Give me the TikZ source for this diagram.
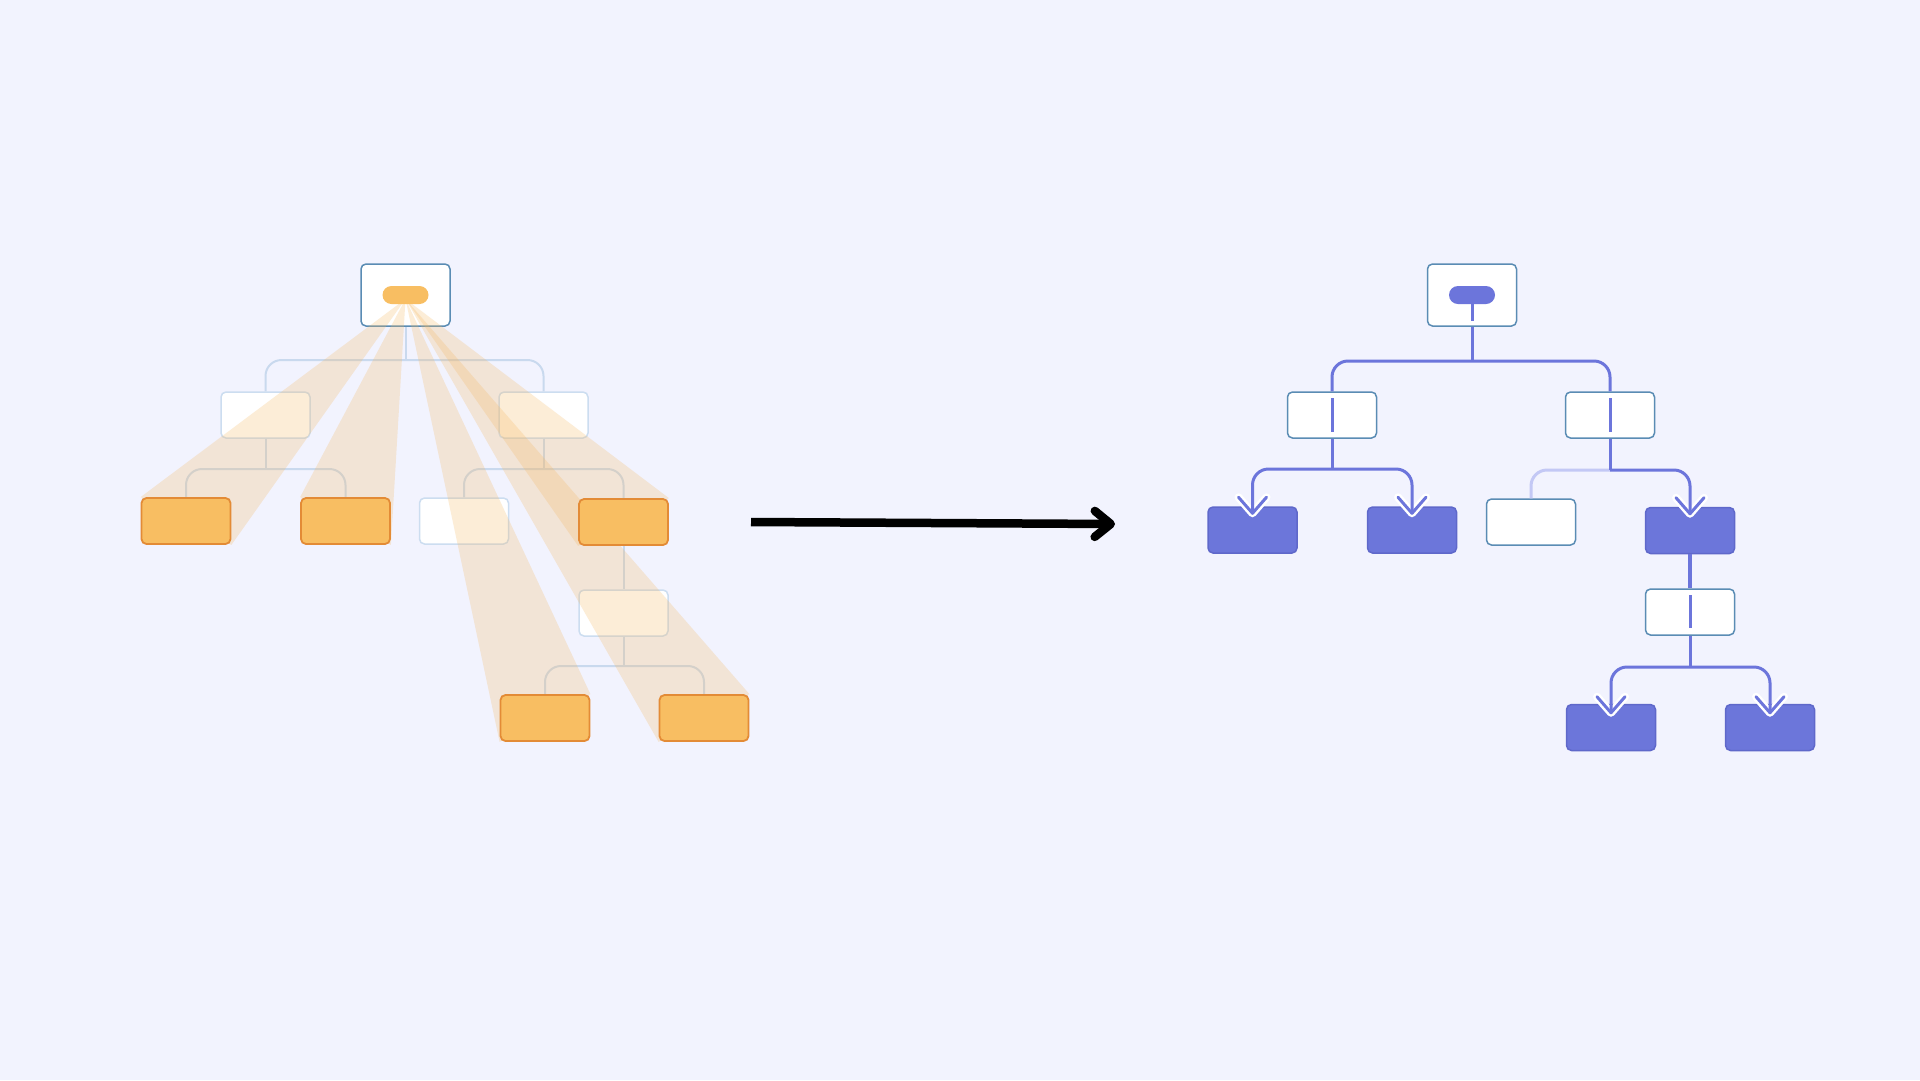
\documentclass[tikz,border=0pt]{standalone}
\usetikzlibrary{calc,arrows.meta}

\definecolor{bg}{HTML}{F2F3FE}
\definecolor{ghostline}{HTML}{CCDDF0}
\definecolor{faintline}{HTML}{C9D9EE}
\definecolor{leaforange}{HTML}{F8BE62}
\definecolor{leafedge}{HTML}{E38B36}
\definecolor{frameblue}{HTML}{5A8CB4}
\definecolor{hitblue}{HTML}{6C76DA}
\definecolor{hitedge}{HTML}{5F68CA}
\definecolor{flowblue}{HTML}{6C75DB}
\definecolor{fadedflow}{HTML}{C3C8F5}
\definecolor{beamorange}{HTML}{F5B860}

\pgfdeclarelayer{back}
\pgfdeclarelayer{mid}
\pgfsetlayers{back,mid,main}

\begin{document}
\begin{tikzpicture}[x=1pt,y=-1pt,
  box/.style={rectangle, rounded corners=5pt, inner sep=0pt,
    minimum width=89pt, minimum height=46pt, line width=1.5pt},
  ghost/.style={box, fill=white, draw=ghostline},
  leaf/.style={box, fill=leaforange, draw=leafedge, line width=1.8pt},
  frame/.style={box, fill=white, draw=frameblue},
  hit/.style={box, fill=hitblue, draw=hitedge},
  tall/.style={minimum height=62pt},
  pill/.style={rectangle, rounded corners=9pt, minimum width=46pt,
    minimum height=18pt, inner sep=0pt},
  faint/.style={draw=faintline, line width=2pt, rounded corners=16pt},
  flow/.style={draw=flowblue, line width=3pt, rounded corners=16pt},
  fade/.style={draw=fadedflow, line width=3pt, rounded corners=16pt},
  beam/.style={fill=beamorange, fill opacity=0.25},
  halo/.style={draw=white, line width=8pt, line cap=round, line join=round},
  chev/.style={draw=flowblue, line width=3pt, line cap=round, line join=round}
]
\begin{pgfonlayer}{back}
  \fill[bg] (0,0) rectangle (1920,1080);
\end{pgfonlayer}
\useasboundingbox (0,0) rectangle (1920,1080);

% ---------- left tree: every leaf lit from the root ----------
\begin{pgfonlayer}{back}
  \node[frame, tall] (R) at (405.5,295) {};
  \node[ghost] (A) at (265.5,415) {};
  \node[ghost] (B) at (543.5,415) {};
  \node[ghost] (C3) at (464,521) {};
  \node[ghost] (D) at (623.5,613) {};
\end{pgfonlayer}

\node[leaf] (C1) at (186,521) {};
\node[leaf] (C2) at (345.5,521) {};
\node[leaf] (C4) at (623.5,522) {};
\node[leaf] (E1) at (545,718) {};
\node[leaf] (E2) at (704,718) {};
\node[pill, fill=leaforange] (P) at (405.5,295) {};

\coordinate (j1) at (405.5,360);
\coordinate (j2) at (265.5,469);
\coordinate (j3) at (543.5,469);
\coordinate (j4) at (623.5,666);
\coordinate (apex) at (405.5,299);

\begin{pgfonlayer}{back}
  \draw[faint] (R.south) -- (j1);
  \draw[faint] (A.north) -- (A.north |- j1) -- (B.north |- j1) -- (B.north);
  \draw[faint] (A.south) -- (j2);
  \draw[faint] (C1.north) -- (C1.north |- j2) -- (C2.north |- j2) -- (C2.north);
  \draw[faint] (B.south) -- (j3);
  \draw[faint] (C3.north) -- (C3.north |- j3) -- (C4.north |- j3) -- (C4.north);
  \draw[faint] (C4.south) -- (D.north);
  \draw[faint] (D.south) -- (j4);
  \draw[faint] (E1.north) -- (E1.north |- j4) -- (E2.north |- j4) -- (E2.north);
\end{pgfonlayer}

\begin{pgfonlayer}{mid}
  \fill[beam] (apex) -- (C1.north west) -- (C1.south east) -- cycle;
  \fill[beam] (apex) -- (C2.north west) -- (C2.south east) -- cycle;
  \fill[beam] (apex) -- (C4.north east) -- (C4.south west) -- cycle;
  \fill[beam] (apex) -- (E1.north east) -- (E1.south west) -- cycle;
  \fill[beam] (apex) -- (E2.north east) -- (E2.south west) -- cycle;
\end{pgfonlayer}

% ---------- transition arrow ----------
\coordinate (m1) at (751,522);
\coordinate (m2) at (1115,524);
\draw[line width=8.5pt, -{Straight Barb[length=16pt,width=26pt,round]}] (m1) -- (m2);

% ---------- right tree: paths followed to the matching leaves ----------
\node[frame, tall] (rR) at (1472,295) {};
\node[frame] (rA) at (1332,415) {};
\node[frame] (rB) at (1610,415) {};
\node[hit] (F1) at (1252.5,530) {};
\node[hit] (F2) at (1412,530) {};
\node[frame] (W) at (1531,522) {};
\node[hit] (F4) at (1690,530.5) {};
\node[frame] (rD) at (1690,612) {};
\node[hit] (G1) at (1611,727.5) {};
\node[hit] (G2) at (1770,727.5) {};
\node[pill, fill=flowblue] (rP) at (1472,295) {};

\coordinate (k1) at (1472,361);
\coordinate (k2) at (1332,469);
\coordinate (k3) at (1610,470);
\coordinate (k4) at (1690,667);
\coordinate (t1) at ($(F1.north)+(0,7)$);
\coordinate (t2) at ($(F2.north)+(0,7)$);
\coordinate (t4) at ($(F4.north)+(0,7)$);
\coordinate (t5) at ($(G1.north)+(0,9)$);
\coordinate (t6) at ($(G2.north)+(0,9)$);

% white halos under the arrow heads
\foreach \t in {t1,t2,t4,t5,t6}
  \draw[halo] ($(\t)+(-14,-16)$) -- (\t) -- ($(\t)+(14,-16)$);

% inner strokes of the decision boxes
\draw[draw=flowblue, line width=3pt] (rP.center) -- ($(rR.south)+(0,-6)$);
\draw[draw=flowblue, line width=3pt] ($(rA.north)+(0,7)$) -- ($(rA.south)+(0,-7)$);
\draw[draw=flowblue, line width=3pt] ($(rB.north)+(0,7)$) -- ($(rB.south)+(0,-7)$);
\draw[draw=flowblue, line width=3pt] ($(rD.north)+(0,7)$) -- ($(rD.south)+(0,-8)$);

% connectors
\draw[fade] (k3) -- (W.north |- k3) -- (W.north);
\draw[flow] (rR.south) -- (k1);
\draw[flow] (rA.north) -- (rA.north |- k1) -- (rB.north |- k1) -- (rB.north);
\draw[flow] (rA.south) -- (k2);
\draw[flow] (t1) -- (F1.north |- k2) -- (F2.north |- k2) -- (t2);
\draw[flow] (rB.south) -- (k3);
\draw[flow] (k3) -- (F4.north |- k3) -- (t4);
\draw[flow, line width=3.5pt] (F4.south) -- (rD.north);
\draw[flow] (rD.south) -- (k4);
\draw[flow] (t5) -- (G1.north |- k4) -- (G2.north |- k4) -- (t6);

% arrow heads
\foreach \t in {t1,t2,t4,t5,t6}
  \draw[chev] ($(\t)+(-14,-16)$) -- (\t) -- ($(\t)+(14,-16)$);
\end{tikzpicture}
\end{document}
